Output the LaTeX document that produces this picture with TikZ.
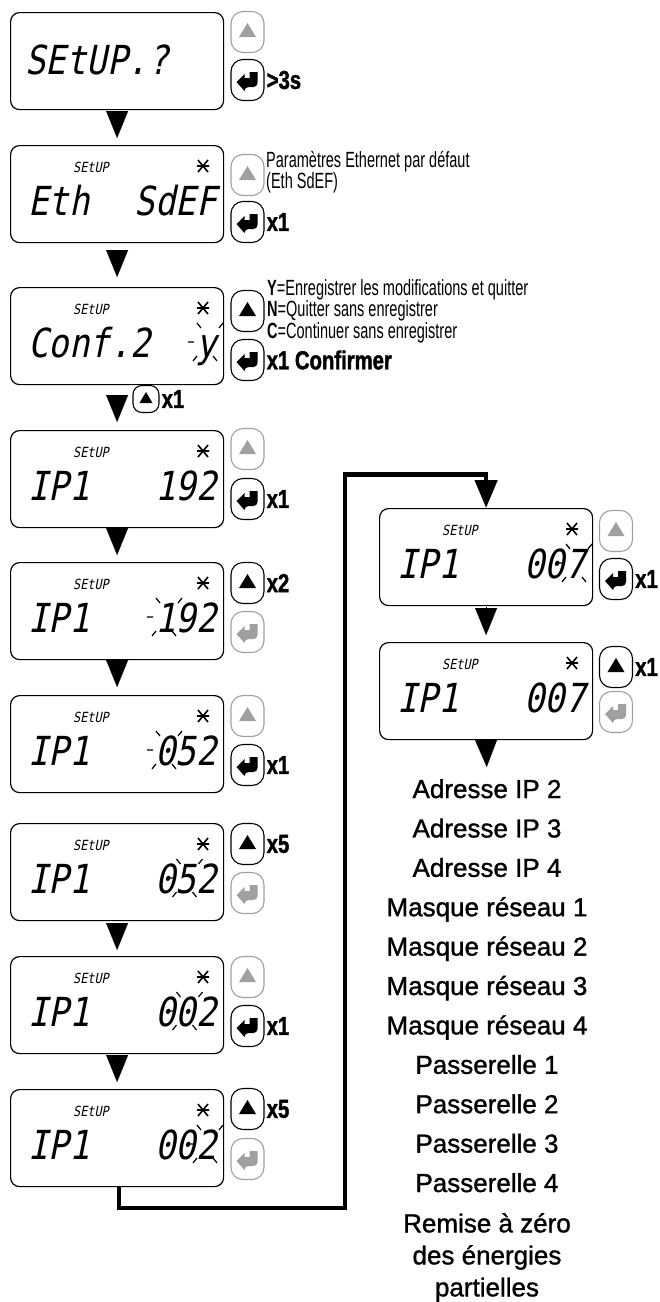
\documentclass[tikz,border=0pt]{standalone}
\usepackage{fontspec}
\usetikzlibrary{arrows.meta,calc}
\setmainfont{Liberation Sans}
\newfontfamily\lcdfont{DejaVu Sans Mono}[FakeSlant=0.2,FakeStretch=0.85]
\newfontfamily\condfont{Liberation Sans}[FakeStretch=0.66]
\newfontfamily\condbold{Liberation Sans}[FakeStretch=0.78, BoldFeatures={FakeBold=1.5}]
\newfontfamily\listfont{Liberation Sans}[FakeBold=1.2]
\definecolor{btngray}{RGB}{160,160,160}
\definecolor{icongray}{RGB}{140,140,140}
\newcommand\lcdscreen[5]{%
  \node[lcdbox,anchor=north west] (#1) at (#2,#3) {};
  \node[lcdsmall] (#1-s) at ($(#1.north west)+(81,22)$) {SEtUP};
  \coordinate (#1-a) at ($(#1.north west)+(193,21)$);
  \draw[lcdstar] ([shift={(-6,0)}]#1-a) -- ([shift={(6,0)}]#1-a)
                 ([shift={(-5,-6)}]#1-a) -- ([shift={(5,6)}]#1-a)
                 ([shift={(-5,6)}]#1-a) -- ([shift={(5,-6)}]#1-a);
  \node[lcdbig,anchor=base west] (#1-l) at ($(#1.north west)+(18,70)$) {#4};
  \node[lcdbig,anchor=base east] (#1-r) at ($(#1.north west)+(207,70)$) {#5};
}
\newcommand\blinkmark[2]{%
  \begin{scope}[shift={($(#1.north west)+({198-20.5*#2},55)$)}]
    \draw[blinktick] (-11,-19) -- (-7,-14) (-20,0) -- (-14,0) (-15,19) -- (-11,14)
                     (9,19) -- (5,14) (15,-19) -- (11,-14);
  \end{scope}}
\begin{document}
\begin{tikzpicture}[x=1pt,y=-1pt,
  lcdbox/.style={draw, line width=1.2pt, rounded corners=9pt, minimum width=213pt, minimum height=97pt, inner sep=0pt},
  lcdbig/.style={font=\lcdfont\fontsize{40}{40}\selectfont, inner sep=0pt},
  lcdsmall/.style={font=\lcdfont\fontsize{14}{14}\selectfont, inner sep=0pt},
  lcdstar/.style={line width=1.6pt},
  blinktick/.style={line width=1.2pt},
  btn/.style={draw, rounded corners=12pt, minimum width=33pt, minimum height=41pt, inner sep=0pt, line width=1.1pt},
  upbtn/.style={btn, draw=#1, path picture={\fill[#1, sharp corners] ([shift={(-8.5,5)}]path picture bounding box.center) -- ++(17,0) -- ++(-8.5,-14) -- cycle;}},
  upsmall/.style={draw=#1, rounded corners=9pt, minimum width=26pt, minimum height=27pt, inner sep=0pt, line width=1.1pt, path picture={\fill[#1, sharp corners] ([shift={(-6.5,4)}]path picture bounding box.center) -- ++(13,0) -- ++(-6.5,-11) -- cycle;}},
  enterbtn/.style={btn, draw=#1, path picture={\fill[#1, sharp corners] ([shift={(-11,2)}]path picture bounding box.center) -- ++(8,-8) -- ++(0,4) -- ++(5,0) -- ++(0,-6) -- ++(8,0) [rounded corners=4pt] -- ++(0,15) -- ++(-13,0) [sharp corners] -- ++(0,4) -- cycle;}},
  lbl/.style={font=\condbold\bfseries\fontsize{26}{26}\selectfont, anchor=west, inner sep=0pt},
  note/.style={font=\condfont\fontsize{22}{18}\selectfont, align=left, inner sep=0pt, anchor=north west},
  listtxt/.style={font=\listfont\fontsize{26}{32}\selectfont, inner sep=0pt, anchor=base},
  flow/.style={line width=0.1pt, -{Triangle[length=27pt,width=22pt]}, shorten <=1pt, shorten >=7pt},
  bigline/.style={line width=4.5pt, line join=miter, -{Triangle[length=28pt,width=22pt]}}
]
\fill[white] (0,0) rectangle (660,1302);
\useasboundingbox (0,0) rectangle (660,1302);

% ---------- box 1
\node[lcdbox,anchor=north west] (b1) at (10,12) {};
\node[lcdbig,anchor=base west] (b1-l) at ($(b1.north west)+(15,62)$) {SEtUP.?};
\node[upbtn=btngray] (b1u) at (247.5,32) {};
\node[enterbtn=black] (b1e) at (247.5,80) {};
\node[lbl] (b1x) at ([xshift=2pt]b1e.east) {>3s};

% ---------- box 2
\lcdscreen{b2}{10}{145}{Eth}{SdEF}
\node[upbtn=btngray] (b2u) at (247.5,175) {};
\node[enterbtn=black] (b2e) at (247.5,222) {};
\node[lbl] (b2x) at ([xshift=2pt]b2e.east) {x1};
\node[note] (b2n) at (266,151) {Paramètres Ethernet par défaut\\(Eth SdEF)};

% ---------- box 3
\lcdscreen{b3}{10}{287}{Conf.2}{y}
\blinkmark{b3}{0}
\node[upbtn=black] (b3u) at (247.5,311) {};
\node[enterbtn=black] (b3e) at (247.5,360) {};
\node[lbl] (b3x) at ([xshift=2pt]b3e.east) {x1 Confirmer};
\node[note] (b3n) at (267,279) {\textbf{Y}=Enregistrer les modifications et quitter\\\textbf{N}=Quitter sans enregistrer\\\textbf{C}=Continuer sans enregistrer};

% ---------- box 4
\lcdscreen{b4}{10}{430}{IP1}{192}
\node[upbtn=btngray] (b4u) at (247.5,449) {};
\node[enterbtn=black] (b4e) at (247.5,499) {};
\node[lbl] (b4x) at ([xshift=2pt]b4e.east) {x1};

% ---------- box 5
\lcdscreen{b5}{10}{562}{IP1}{192}
\blinkmark{b5}{2}
\node[upbtn=black] (b5u) at (247.5,583) {};
\node[enterbtn=btngray] (b5e) at (247.5,632) {};
\node[lbl] (b5x) at ([xshift=2pt]b5u.east) {x2};

% ---------- box 6
\lcdscreen{b6}{10}{695}{IP1}{052}
\blinkmark{b6}{2}
\node[upbtn=btngray] (b6u) at (247.5,716) {};
\node[enterbtn=black] (b6e) at (247.5,765) {};
\node[lbl] (b6x) at ([xshift=2pt]b6e.east) {x1};

% ---------- box 7
\lcdscreen{b7}{10}{823}{IP1}{052}
\blinkmark{b7}{1}
\node[upbtn=black] (b7u) at (247.5,844) {};
\node[enterbtn=btngray] (b7e) at (247.5,893) {};
\node[lbl] (b7x) at ([xshift=2pt]b7u.east) {x5};

% ---------- box 8
\lcdscreen{b8}{10}{956}{IP1}{002}
\blinkmark{b8}{1}
\node[upbtn=btngray] (b8u) at (247.5,977) {};
\node[enterbtn=black] (b8e) at (247.5,1026) {};
\node[lbl] (b8x) at ([xshift=2pt]b8e.east) {x1};

% ---------- box 9
\lcdscreen{b9}{10}{1089}{IP1}{002}
\blinkmark{b9}{0}
\node[upbtn=black] (b9u) at (247.5,1109) {};
\node[enterbtn=btngray] (b9e) at (247.5,1159) {};
\node[lbl] (b9x) at ([xshift=2pt]b9u.east) {x5};

% ---------- right column
\lcdscreen{r1}{379}{508}{IP1}{007}
\blinkmark{r1}{0}
\node[upbtn=btngray] (r1u) at (616,531) {};
\node[enterbtn=black] (r1e) at (616,579) {};
\node[lbl] (r1x) at ([xshift=2pt]r1e.east) {x1};

\lcdscreen{r2}{379}{642}{IP1}{007}
\node[upbtn=black] (r2u) at (616,667) {};
\node[enterbtn=btngray] (r2e) at (616,712) {};
\node[lbl] (r2x) at ([xshift=2pt]r2u.east) {x1};

% ---------- list
\node[listtxt] (t1) at (487,798) {Adresse IP 2};
\node[listtxt] (t2) at (487,837.4) {Adresse IP 3};
\node[listtxt] (t3) at (487,876.8) {Adresse IP 4};
\node[listtxt] (t4) at (487,916.2) {Masque réseau 1};
\node[listtxt] (t5) at (487,955.6) {Masque réseau 2};
\node[listtxt] (t6) at (487,995) {Masque réseau 3};
\node[listtxt] (t7) at (487,1034.4) {Masque réseau 4};
\node[listtxt] (t8) at (487,1073.8) {Passerelle 1};
\node[listtxt] (t9) at (487,1113.2) {Passerelle 2};
\node[listtxt] (t10) at (487,1152.6) {Passerelle 3};
\node[listtxt] (t11) at (487,1192) {Passerelle 4};
\node[listtxt, align=center, anchor=north] (t12) at (487,1213) {Remise à zéro\\des énergies\\partielles};

% ---------- connectors
\draw[flow] (b1.south) -- (b2.north);
\draw[flow, shorten <=7pt, shorten >=10pt] (b2.south) -- (b3.north);
\draw[flow, shorten <=10pt, shorten >=8pt] (b3.south) -- (b4.north);
\node[upsmall=black] (s3u) at (146,399) {};
\node[lbl] (s3x) at ([xshift=2pt]s3u.east) {x1};
\draw[flow, shorten <=0pt] (b4.south) -- (b5.north);
\draw[flow, shorten <=0pt, shorten >=8pt] (b5.south) -- (b6.north);
\draw[flow, shorten <=2pt, shorten >=6pt] (b7.south) -- (b8.north);
\draw[flow, shorten <=2pt] (b8.south) -- (b9.north);
\coordinate (c2) at (345,1208);
\coordinate (c3) at (345,474.5);
\draw[bigline] ([xshift=2pt]b9.south) |- (c2) -- (c3) -| (r1.north);
\draw[flow] (r1.south) -- (r2.north);
\draw[flow, shorten >=12pt] (r2.south) -- (t1.north);
\end{tikzpicture}
\end{document}
